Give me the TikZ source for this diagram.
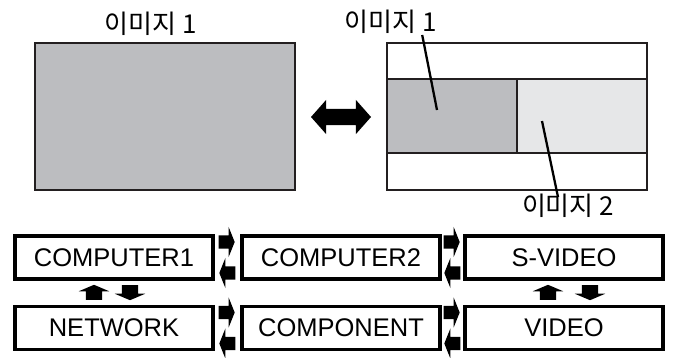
\documentclass[tikz,border=0pt]{standalone}
\usepackage{fontspec}
\setmainfont{Liberation Sans}
\newfontfamily\krfont{Noto Sans CJK KR}
\usetikzlibrary{shapes.arrows, positioning, calc}
\definecolor{imgdark}{HTML}{BCBDC0}
\definecolor{imglight}{HTML}{E6E7E8}
\definecolor{frameblk}{HTML}{231F20}
\tikzset{
  srcbox/.style={draw, line width=3.5pt, minimum width=198pt, minimum height=43pt, inner sep=0pt, font=\fontsize{25.5}{28}\selectfont},
  imglabel/.style={inner sep=1pt, font=\krfont\fontsize{26}{29}\selectfont},
  screen/.style={draw=frameblk, line width=2pt, inner sep=0pt, minimum width=260pt, minimum height=147pt},
  leader/.style={line width=2.3pt},
  hswitch/.style={single arrow, fill=black, inner xsep=0pt, inner ysep=6.5pt, minimum width=0pt, minimum height=16pt, single arrow head extend=8.5pt, single arrow tip angle=136, anchor=tail},
  vswitch/.style={single arrow, fill=black, inner xsep=0pt, inner ysep=8pt, minimum width=0pt, minimum height=15pt, single arrow head extend=7pt, single arrow tip angle=134, anchor=tail},
  swaparrow/.style={double arrow, fill=black, inner xsep=0pt, inner ysep=8pt, minimum width=0pt, minimum height=60pt, double arrow head extend=9pt, double arrow tip angle=97},
}
\begin{document}
\begin{tikzpicture}[x=1pt, y=-1pt]
  \useasboundingbox (0,0) rectangle (674,358);
  % single screen
  \node[screen, fill=imgdark] (scrA) at (165,116.5) {};
  \node[imglabel] (lbS) at (151,23.5) {이미지 1};
  % split screen
  \fill[imgdark] (387,79) rectangle (517,153);
  \fill[imglight] (517,79) rectangle (647,153);
  \draw[frameblk, line width=1.2pt] (387,79) -- (647,79) (387,153) -- (647,153) (517,79) -- (517,153);
  \node[screen] (scrB) at (517,116.5) {};
  \node[swaparrow] (swp) at (341,117) {};
  \node[imglabel] (lbA) at (391,22) {이미지 1};
  \node[imglabel] (lbB) at (568,206) {이미지 2};
  \coordinate (inA) at (437,110);
  \coordinate (inB) at (542,121);
  \draw[leader] ([xshift=-16pt]lbA.south east) -- (inA);
  \draw[leader] (inB) -- ($(lbB.north)+(-10,4)$);
  % input sources
  \node[srcbox] (cpA) at (114,257.5) {COMPUTER1};
  \node[srcbox, right=25.5pt of cpA] (cpB) {COMPUTER2};
  \node[srcbox, right=21.5pt of cpB] (svd) {S-VIDEO};
  \node[srcbox, below=24pt of cpA] (net) {NETWORK};
  \node[srcbox, below=24pt of cpB] (cmp) {COMPONENT};
  \node[srcbox, below=24pt of svd] (vid) {VIDEO};
  \foreach \l/\r in {cpA/cpB, cpB/svd, net/cmp, cmp/vid} {
    \coordinate (m-\l) at ($(\l.east)!.5!(\r.west)$);
    \node[hswitch] (fw-\l) at ($(m-\l)+(-9,-15.5)$) {};
    \node[hswitch, rotate=180] (bw-\l) at ($(m-\l)+(8,15.5)$) {};
  }
  \node[vswitch, rotate=90] (upA) at (94,300) {};
  \node[vswitch, rotate=-90] (dnA) at (130,285) {};
  \node[vswitch, rotate=90] (upB) at (548,300) {};
  \node[vswitch, rotate=-90] (dnB) at (590,285) {};
\end{tikzpicture}
\end{document}
